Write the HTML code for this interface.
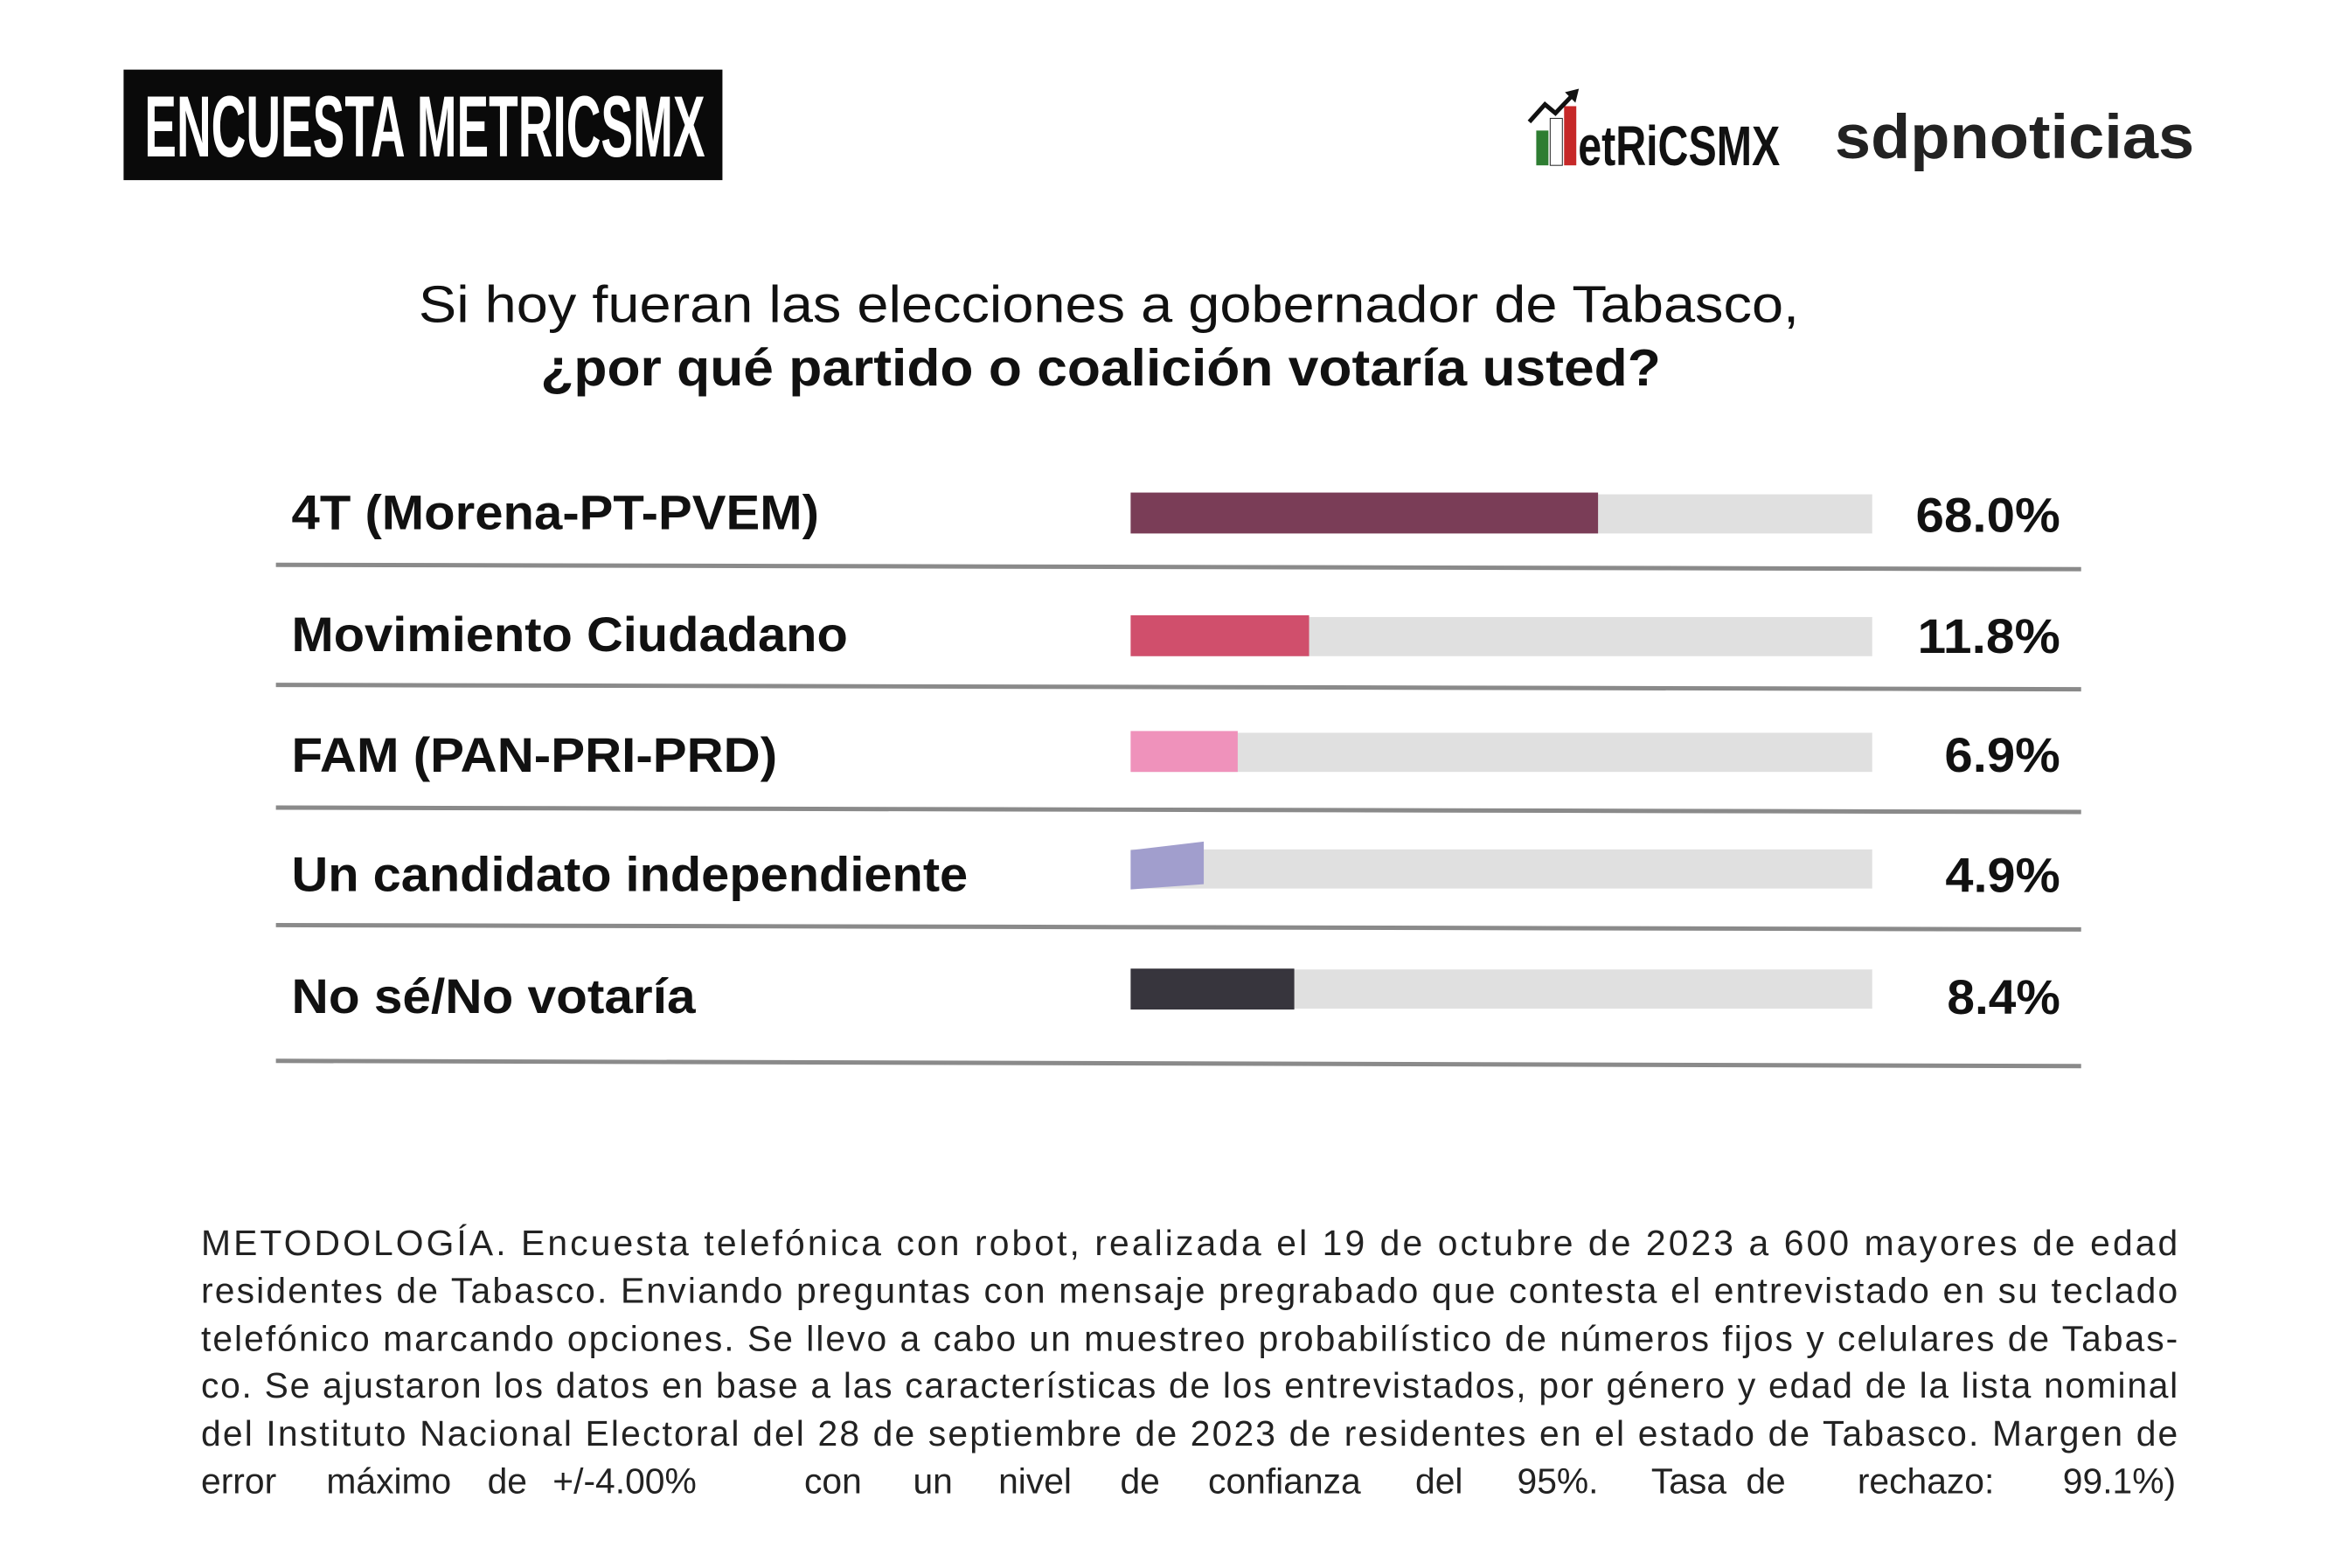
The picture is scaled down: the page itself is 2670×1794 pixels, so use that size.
<!DOCTYPE html>
<html><head><meta charset="utf-8"><style>html,body{margin:0;padding:0;background:#fff}svg{display:block}</style></head>
<body>
<svg width="2670" height="1794" viewBox="0 0 2670 1794" xmlns="http://www.w3.org/2000/svg" font-family="Liberation Sans, sans-serif">
<rect width="2670" height="1794" fill="#fff"/>
<g transform="scale(0.9957)">
<rect x="142" y="80" width="688" height="127" fill="#0a0a0a"/>
<text x="166" y="180" font-size="100" font-weight="bold" fill="#fff" textLength="644" lengthAdjust="spacingAndGlyphs">ENCUESTA METRICSMX</text>
<rect x="1765" y="150" width="14" height="40" fill="#2e7d32"/>
<rect x="1781" y="136" width="14" height="54" fill="#fff" stroke="#222" stroke-width="1"/>
<rect x="1797" y="122" width="14" height="68" fill="#c62828"/>
<polyline points="1757,140 1775,120 1787,130 1808,108" fill="none" stroke="#111" stroke-width="5"/>
<polygon points="1814,102 1798,106 1810,118" fill="#111"/>
<text x="1813" y="190" font-size="64" font-weight="bold" fill="#111" textLength="232" lengthAdjust="spacingAndGlyphs">etRiCSMX</text>
<text x="2108" y="182" font-size="72" font-weight="bold" fill="#222" textLength="413" lengthAdjust="spacingAndGlyphs">sdpnoticias</text>
<text x="481" y="370" font-size="60" fill="#111" textLength="1586" lengthAdjust="spacingAndGlyphs">Si hoy fueran las elecciones a gobernador de Tabasco,</text>
<text x="621" y="443" font-size="60" font-weight="bold" fill="#111" textLength="1287" lengthAdjust="spacingAndGlyphs">¿por qué partido o coalición votaría usted?</text>
<g fill="#e0e0e0">
<rect x="1299" y="568" width="852" height="45"/>
<rect x="1299" y="709" width="852" height="45"/>
<rect x="1299" y="842" width="852" height="45"/>
<rect x="1299" y="976" width="852" height="45"/>
<rect x="1299" y="1114" width="852" height="45"/>
</g>
<rect x="1299" y="566" width="537" height="47" fill="#7a3d57"/>
<rect x="1299" y="707" width="205" height="47" fill="#d04f6c"/>
<rect x="1299" y="840" width="123" height="47" fill="#ef92bb"/>
<polygon points="1299,977 1383,967 1383,1016 1299,1022" fill="#a19ecd"/>
<rect x="1299" y="1113" width="188" height="47" fill="#37353d"/>
<g stroke="#8a8a8a" stroke-width="5">
<line x1="317" y1="649" x2="2391" y2="654"/>
<line x1="317" y1="787" x2="2391" y2="792"/>
<line x1="317" y1="928" x2="2391" y2="933"/>
<line x1="317" y1="1063" x2="2391" y2="1068"/>
<line x1="317" y1="1219" x2="2391" y2="1225"/>
</g>
<g font-size="56" font-weight="bold" fill="#111">
<text x="335" y="608" textLength="606" lengthAdjust="spacingAndGlyphs">4T (Morena-PT-PVEM)</text>
<text x="335" y="748" textLength="639" lengthAdjust="spacingAndGlyphs">Movimiento Ciudadano</text>
<text x="335" y="887" textLength="558" lengthAdjust="spacingAndGlyphs">FAM (PAN-PRI-PRD)</text>
<text x="335" y="1024" textLength="777" lengthAdjust="spacingAndGlyphs">Un candidato independiente</text>
<text x="335" y="1164" textLength="464" lengthAdjust="spacingAndGlyphs">No sé/No votaría</text>
<text x="2201" y="611" textLength="166" lengthAdjust="spacingAndGlyphs">68.0%</text>
<text x="2203" y="750" textLength="164" lengthAdjust="spacingAndGlyphs">11.8%</text>
<text x="2234" y="887" textLength="133" lengthAdjust="spacingAndGlyphs">6.9%</text>
<text x="2235" y="1025" textLength="132" lengthAdjust="spacingAndGlyphs">4.9%</text>
<text x="2237" y="1165" textLength="130" lengthAdjust="spacingAndGlyphs">8.4%</text>
</g>
<g font-size="41" fill="#222">
<text x="231" y="1442" textLength="2271" lengthAdjust="spacing">METODOLOGÍA. Encuesta telefónica con robot, realizada el 19 de octubre de 2023 a 600 mayores de edad</text>
<text x="231" y="1497" textLength="2271" lengthAdjust="spacing">residentes de Tabasco. Enviando preguntas con mensaje pregrabado que contesta el entrevistado en su teclado</text>
<text x="231" y="1552" textLength="2271" lengthAdjust="spacing">telefónico marcando opciones. Se llevo a cabo un muestreo probabilístico de números fijos y celulares de Tabas-</text>
<text x="231" y="1606" textLength="2271" lengthAdjust="spacing">co. Se ajustaron los datos en base a las características de los entrevistados, por género y edad de la lista nominal</text>
<text x="231" y="1661" textLength="2271" lengthAdjust="spacing">del Instituto Nacional Electoral del 28 de septiembre de 2023 de residentes en el estado de Tabasco. Margen de</text>
<text y="1716">
<tspan x="231">error</tspan><tspan x="375">máximo</tspan><tspan x="560">de</tspan><tspan x="635">+/-4.00%</tspan><tspan x="924">con</tspan><tspan x="1049">un</tspan><tspan x="1147">nivel</tspan><tspan x="1287">de</tspan><tspan x="1388">confianza</tspan><tspan x="1626">del</tspan><tspan x="1743">95%.</tspan><tspan x="1897">Tasa</tspan><tspan x="2006">de</tspan><tspan x="2134">rechazo:</tspan><tspan x="2370">99.1%)</tspan>
</text>
</g>
</g>
</svg>
</body></html>
